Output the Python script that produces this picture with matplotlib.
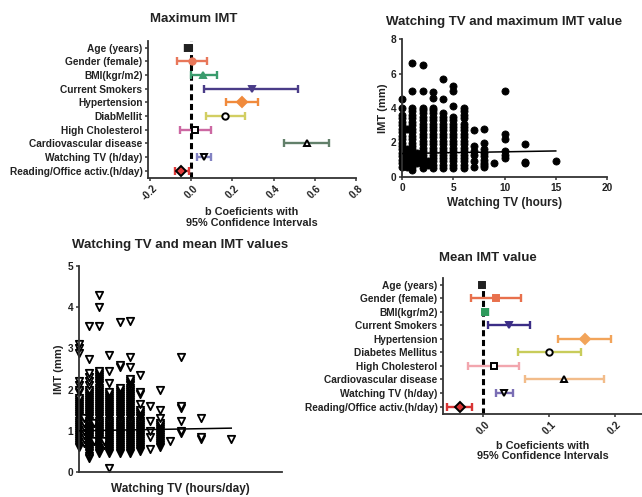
import numpy as np
import matplotlib
matplotlib.use('Agg')
import matplotlib.pyplot as plt

plt.rcParams['font.family'] = ['Liberation Sans', 'DejaVu Sans']
plt.rcParams['font.weight'] = 'bold'
plt.rcParams['axes.labelweight'] = 'bold'
plt.rcParams['text.color'] = '#222222'
plt.rcParams['axes.labelcolor'] = '#222222'
plt.rcParams['xtick.color'] = '#222222'
plt.rcParams['ytick.color'] = '#222222'

# --- данные: регрессия, максимальный IMT ---
labels_max = ['Age (years)', 'Gender (female)', 'BMI(kgr/m2)', 'Current Smokers',
              'Hypertension', 'DiabMellit', 'High Cholesterol',
              'Cardiovascular disease', 'Watching TV (h/day)',
              'Reading/Office activ.(h/day)']
b_max = [-0.01, 0.003, 0.055, 0.293, 0.245, 0.163, 0.02, 0.56, 0.06, -0.05]
lo_max = [-0.03, -0.07, -0.003, 0.061, 0.167, 0.07, -0.054, 0.45, 0.03, -0.08]
hi_max = [0.0, 0.078, 0.124, 0.52, 0.325, 0.26, 0.097, 0.67, 0.097, -0.01]

# --- данные: регрессия, средний IMT ---
labels_mean = ['Age (years)', 'Gender (female)', 'BMI(kgr/m2)', 'Current Smokers',
               'Hypertension', 'Diabetes Mellitus', 'High Cholesterol',
               'Cardiovascular disease', 'Watching TV (h/day)',
               'Reading/Office activ.(h/day)']
b_mean = [-0.002, 0.02, 0.003, 0.04, 0.155, 0.1, 0.016, 0.123, 0.032, -0.035]
lo_mean = [-0.004, -0.018, 0.0, 0.007, 0.113, 0.053, -0.023, 0.064, 0.019, -0.054]
hi_mean = [0.0, 0.057, 0.007, 0.072, 0.194, 0.149, 0.055, 0.184, 0.046, -0.016]

# --- данные: ТВ (часы) и максимальный IMT ---
tv_max_hours = [0, 0.5, 1, 1.5, 2, 2.5, 3, 4, 5, 6, 7, 8, 9, 10, 12, 15]
imt_max_vals = [
    [0.6, 0.8, 1.0, 1.2, 1.4, 1.6, 1.8, 2.0, 2.2, 2.4, 2.6, 2.8, 3.0, 3.2, 3.4, 3.6, 4.0, 4.5],
    [0.6, 0.8, 1.0, 1.2, 1.4, 1.6, 2.8],
    [0.4, 0.6, 0.8, 1.0, 1.2, 1.4, 1.6, 1.8, 2.0, 2.2, 2.4, 2.6, 2.8, 3.0, 3.2, 3.4, 3.6, 3.8, 4.0, 5.0, 6.6],
    [0.8, 1.0, 1.2, 1.4],
    [0.5, 0.7, 0.9, 1.1, 1.3, 1.5, 1.7, 1.9, 2.1, 2.3, 2.5, 2.7, 2.9, 3.1, 3.3, 3.5, 3.7, 3.9, 4.0, 5.0, 6.5],
    [0.7, 0.8, 0.9],
    [0.5, 0.7, 0.9, 1.1, 1.3, 1.5, 1.7, 1.9, 2.1, 2.3, 2.5, 2.7, 2.9, 3.1, 3.3, 3.5, 3.7, 3.9, 4.0, 4.6, 4.9],
    [0.5, 0.7, 0.9, 1.1, 1.3, 1.5, 1.7, 1.9, 2.1, 2.3, 2.5, 2.7, 2.9, 3.1, 3.3, 3.5, 3.7, 4.5, 5.7],
    [0.5, 0.7, 0.9, 1.1, 1.3, 1.5, 1.7, 1.9, 2.1, 2.3, 2.5, 2.7, 2.9, 3.1, 3.3, 3.5, 4.1, 5.0, 5.3],
    [0.5, 0.7, 0.9, 1.1, 1.3, 1.5, 1.7, 1.9, 2.1, 2.3, 2.5, 2.7, 2.9, 3.1, 3.4, 3.6, 3.8, 4.0],
    [0.6, 0.9, 1.3, 1.5, 1.8, 2.7],
    [0.6, 0.7, 0.8, 1.0, 1.2, 1.4, 1.6, 2.0, 2.8],
    [0.8],
    [1.1, 1.3, 1.5, 2.2, 2.5, 5.0],
    [0.8, 0.85, 1.9],
    [0.9],
]
fit_max = (1.36, 0.01)   # пересечение, наклон

# --- данные: ТВ (часы в день) и средний IMT ---
tv_mean_hours = [0, 0.5, 1, 1.5, 2, 2.5, 3, 4, 5, 6, 7, 8, 9, 10, 12, 15]
imt_mean_vals = [
    [0.6, 0.65, 0.7, 0.75, 0.8, 0.85, 0.9, 0.95, 1.0, 1.05, 1.1, 1.15, 1.2, 1.25, 1.3, 1.35,
     1.4, 1.45, 1.5, 1.55, 1.6, 1.65, 1.7, 1.75, 1.8, 1.95, 2.0, 2.1, 2.2, 2.9, 3.0, 3.1],
    [0.7, 0.8, 0.9, 1.0, 1.1, 1.2, 1.3],
    [0.35, 0.4, 0.45, 0.5, 0.55, 0.6, 0.65, 0.7, 0.75, 0.8, 0.85, 0.9, 0.95, 1.0, 1.05, 1.1,
     1.15, 1.2, 1.25, 1.3, 1.35, 1.4, 1.45, 1.5, 1.55, 1.6, 1.65, 1.7, 1.75, 1.8, 1.85, 1.9,
     1.95, 2.0, 2.1, 2.2, 2.3, 2.4, 2.75, 3.55],
    [0.75, 1.2],
    [0.45, 0.5, 0.55, 0.6, 0.65, 0.7, 0.75, 0.8, 0.85, 0.9, 0.95, 1.0, 1.05, 1.1, 1.15, 1.2,
     1.25, 1.3, 1.35, 1.4, 1.45, 1.5, 1.55, 1.6, 1.65, 1.7, 1.75, 1.8, 1.85, 1.9, 1.95, 2.0,
     2.05, 2.1, 2.15, 2.2, 2.25, 2.3, 2.35, 2.4, 2.45, 3.55, 4.0, 4.3],
    [0.65, 0.75],
    [0.1, 0.45, 0.5, 0.55, 0.6, 0.65, 0.7, 0.75, 0.8, 0.85, 0.9, 0.95, 1.0, 1.05, 1.1, 1.15,
     1.2, 1.25, 1.3, 1.35, 1.4, 1.45, 1.5, 1.55, 1.6, 1.65, 1.7, 1.75, 1.8, 1.85, 1.9, 1.95,
     2.15, 2.45, 2.85],
    [0.45, 0.5, 0.55, 0.6, 0.65, 0.7, 0.75, 0.8, 0.85, 0.9, 0.95, 1.0, 1.05, 1.1, 1.15, 1.2,
     1.25, 1.3, 1.35, 1.4, 1.45, 1.5, 1.55, 1.6, 1.65, 1.7, 1.75, 1.8, 1.85, 1.9, 1.95, 2.0,
     2.05, 2.55, 2.6, 3.65],
    [0.45, 0.5, 0.55, 0.6, 0.65, 0.7, 0.75, 0.8, 0.85, 0.9, 0.95, 1.0, 1.05, 1.1, 1.15, 1.2,
     1.25, 1.3, 1.35, 1.4, 1.45, 1.5, 1.55, 1.6, 1.65, 1.7, 1.75, 1.8, 1.85, 1.9, 1.95, 2.0,
     2.05, 2.1, 2.15, 2.2, 2.25, 2.55, 2.8, 3.67],
    [0.5, 0.55, 0.6, 0.65, 0.7, 0.75, 0.8, 0.85, 0.9, 0.95, 1.0, 1.05, 1.1, 1.15, 1.2, 1.25,
     1.3, 1.35, 1.4, 1.45, 1.5, 1.65, 1.9, 1.95, 2.35],
    [0.55, 0.85, 1.0, 1.25, 1.6],
    [0.6, 0.65, 0.7, 0.75, 0.8, 0.85, 0.9, 0.95, 1.0, 1.05, 1.1, 1.15, 1.2, 1.3, 1.5, 2.0],
    [0.75],
    [0.95, 1.0, 1.25, 1.55, 1.6, 2.8],
    [0.8, 0.85, 1.3],
    [0.8],
]
fit_mean = (1.0, 0.0043)

# стили строк (цвет интервала, маркер)
colors_max = ['#222222', '#E8775A', '#3A9B6C', '#4A3C88', '#F08A3C', '#D2CE62',
              '#CC68A2', '#62806A', '#8282C2', '#E03A3A']
markers_max = ['s', 'o', '^', 'v', 'D', 'o', 's', '^', 'v', 'D']
colors_mean = ['#222222', '#E8704C', '#2E9A5C', '#3B2D86', '#F2A45A', '#C8CC5A',
               '#F2A6AE', '#F2BC8A', '#7A6EB4', '#D83434']
markers_mean = ['s', 's', 's', 'v', 'D', 'o', 's', '^', 'v', 'D']

fig = plt.figure(figsize=(6.42, 4.97), dpi=100)
W, H = 642, 497


def axes_px(x0, y0, x1, y1):
    return fig.add_axes([x0 / W, 1 - y1 / H, (x1 - x0) / W, (y1 - y0) / H])


def style_axes(ax):
    for s in ['top', 'right']:
        ax.spines[s].set_visible(False)
    for s in ['left', 'bottom']:
        ax.spines[s].set_linewidth(1.3)
        ax.spines[s].set_color('#333333')
    ax.tick_params(width=1.1, length=2.5, labelsize=7.3, pad=1.5, color='#333333')


def forest(ax, labels, b, lo, hi, colors, markers):
    n = len(labels)
    y = np.arange(n)
    ax.axvline(0, color='black', lw=2.2, dashes=(2.0, 1.2), zorder=1)
    for i in range(n):
        c = colors[i]
        ax.errorbar(b[i], y[i], xerr=[[b[i] - lo[i]], [hi[i] - b[i]]], fmt='none',
                    ecolor=c, elinewidth=1.7, capsize=2.7, capthick=1.7, zorder=2)
        if i in (5, 6, 7, 8):
            fc, ec = 'white', 'black'
        elif i == 9:
            fc, ec = c, 'black'
        else:
            fc, ec = c, c
        ax.plot(b[i], y[i], marker=markers[i], ms=4.6, mfc=fc, mec=ec, mew=1.4,
                ls='none', zorder=3)
    ax.set_yticks(y)
    ax.set_yticklabels(labels)
    ax.set_ylim(n - 0.45, -0.5)
    style_axes(ax)
    ax.tick_params(axis='x', labelrotation=45)
    ax.set_xlabel('b Coeficients with\n95% Confidence Intervals', fontsize=7.8,
                  labelpad=3, linespacing=1.1)


# Maximum IMT
ax1 = axes_px(148, 41, 356, 178)
forest(ax1, labels_max, b_max, lo_max, hi_max, colors_max, markers_max)
ax1.set_xlim(-0.21, 0.8)
ax1.set_xticks([-0.2, 0.0, 0.2, 0.4, 0.6, 0.8])
ax1.set_xticklabels(['-0.2', '0.0', '0.2', '0.4', '0.6', '0.8'])
fig.text(194 / W, 1 - 19 / H, 'Maximum IMT', ha='center', va='center',
         fontsize=9.5, fontweight='bold')

# Mean IMT value
ax4 = axes_px(443, 278, 642, 414)
forest(ax4, labels_mean, b_mean, lo_mean, hi_mean, colors_mean, markers_mean)
ax4.set_xlim(-0.0606, 0.241)
ax4.set_xticks([0.0, 0.1, 0.2])
ax4.set_xticklabels(['0.0', '0.1', '0.2'])
fig.text(488 / W, 1 - 258 / H, 'Mean IMT value', ha='center', va='center',
         fontsize=9.5, fontweight='bold')

# Watching TV and maximum IMT value
ax2 = axes_px(402, 39, 607, 177)
for h, vals in zip(tv_max_hours, imt_max_vals):
    ax2.scatter([h] * len(vals), vals, s=26, c='black', edgecolors='black',
                linewidths=0.6, zorder=2, clip_on=False)
xf = np.array([0, 15])
ax2.plot(xf, fit_max[0] + fit_max[1] * xf, color='black', lw=1.1, zorder=3)
ax2.set_xlim(0, 20)
ax2.set_ylim(0, 8)
ax2.set_xticks([0, 5, 10, 15, 20])
ax2.set_yticks([0, 2, 4, 6, 8])
style_axes(ax2)
ax2.set_xlabel('Watching TV (hours)', fontsize=8.5, labelpad=3)
ax2.set_ylabel('IMT (mm)', fontsize=8, labelpad=2)
ax2.set_title('Watching TV and maximum IMT value', fontsize=9.5,
              fontweight='bold', pad=10)

# Watching TV and mean IMT values
ax3 = axes_px(79, 266, 282, 472)
for h, vals in zip(tv_mean_hours, imt_mean_vals):
    ax3.scatter([h] * len(vals), vals, s=28, marker='v', facecolors='white',
                edgecolors='black', linewidths=1.3, zorder=2, clip_on=False)
ax3.plot(xf, fit_mean[0] + fit_mean[1] * xf, color='black', lw=1.1, zorder=3)
ax3.set_xlim(0, 20)
ax3.set_ylim(0, 5)
ax3.set_xticks([])
ax3.set_yticks([0, 1, 2, 3, 4, 5])
style_axes(ax3)
ax3.set_xlabel('Watching TV (hours/day)', fontsize=8.5, labelpad=8)
ax3.set_ylabel('IMT (mm)', fontsize=8, labelpad=3)
fig.text(180 / W, 1 - 245 / H, 'Watching TV and mean IMT values', ha='center',
         va='center', fontsize=9.5, fontweight='bold')

fig.savefig('out.png', dpi=100)
